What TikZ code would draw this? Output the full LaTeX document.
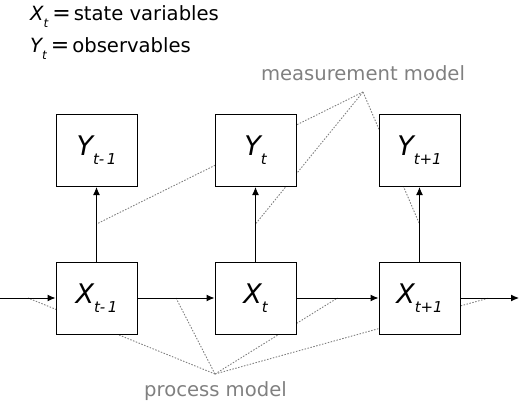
\documentclass[tikz,border=0pt]{standalone}
\usepackage{fontspec}
\setmainfont{DejaVu Sans}
\usetikzlibrary{arrows.meta,calc}
\definecolor{guidegray}{RGB}{128,128,128}
\newcommand{\boxlab}[2]{{\fontsize{27}{27}\selectfont\itshape #1}\raisebox{-9pt}{\fontsize{15}{15}\selectfont\itshape #2}}
\begin{document}
\begin{tikzpicture}[x=1pt,y=-1pt,
  box/.style={draw=black,line width=1pt,fill=white,minimum width=81pt,minimum height=72pt,inner sep=0pt},
  guide/.style={draw=guidegray,line width=0.9pt,dash pattern=on 1.5pt off 1.5pt},
  flow/.style={draw=black,line width=1pt,-{Latex[length=8pt,width=7pt]}},
  note/.style={text=guidegray,font=\fontsize{19.6}{19.6}\selectfont,inner sep=0pt},
  key/.style={font=\fontsize{19.6}{19.6}\selectfont,inner sep=0pt,anchor=base west}]
\useasboundingbox (0,0) rectangle (520,405);
% key
\node[key] (k1) at (30,20) {{\itshape X}\raisebox{-7pt}{\fontsize{12}{12}\selectfont\itshape t}\hspace{4pt}{\fontsize{22}{22}\selectfont=}\hspace{3pt}state variables};
\node[key] (k2) at (30,52) {{\itshape Y}\raisebox{-7pt}{\fontsize{12}{12}\selectfont\itshape t}\hspace{4pt}{\fontsize{22}{22}\selectfont=}\hspace{3pt}observables};
% labels
\node[note,anchor=base] (mmlab) at (363,80) {measurement model};
\node[note,anchor=base] (pmlab) at (215.5,396) {process model};
\coordinate (mm) at (363,92);
\coordinate (pm) at (215,374);
% arrow midpoints
\coordinate (in) at (0,298);
\coordinate (out) at (519,298);
\coordinate (h0) at (28,298);
\coordinate (h1) at (176,298);
\coordinate (h2) at (337.5,298);
\coordinate (h3) at (489,298);
\coordinate (v1) at (96.5,224);
\coordinate (v2) at (255.5,224);
\coordinate (v3) at (419.5,224);
% guide lines
\draw[guide] (mm) -- (v1);
\draw[guide] (mm) -- (v2);
\draw[guide] (mm) -- (v3);
\draw[guide] (pm) -- (h0);
\draw[guide] (pm) -- (h1);
\draw[guide] (pm) -- (h2);
\draw[guide] (pm) -- (h3);
% boxes
\node[box] (x1) at (96.5,298) {\boxlab{X}{t-\,1}};
\node[box] (x2) at (255.5,298) {\boxlab{X}{t}};
\node[box] (x3) at (419.5,298) {\boxlab{X}{t+1}};
\node[box] (y1) at (96.5,150.5) {\boxlab{Y}{t-\,1}};
\node[box] (y2) at (255.5,150.5) {\boxlab{Y}{t}};
\node[box] (y3) at (419.5,150.5) {\boxlab{Y}{t+1}};
% flows
\draw[flow] (in) -- (x1);
\draw[flow] (x1) -- (x2);
\draw[flow] (x2) -- (x3);
\draw[flow] (x3) -- (out);
\draw[flow] (x1) -- (y1);
\draw[flow] (x2) -- (y2);
\draw[flow] (x3) -- (y3);
\end{tikzpicture}
\end{document}
